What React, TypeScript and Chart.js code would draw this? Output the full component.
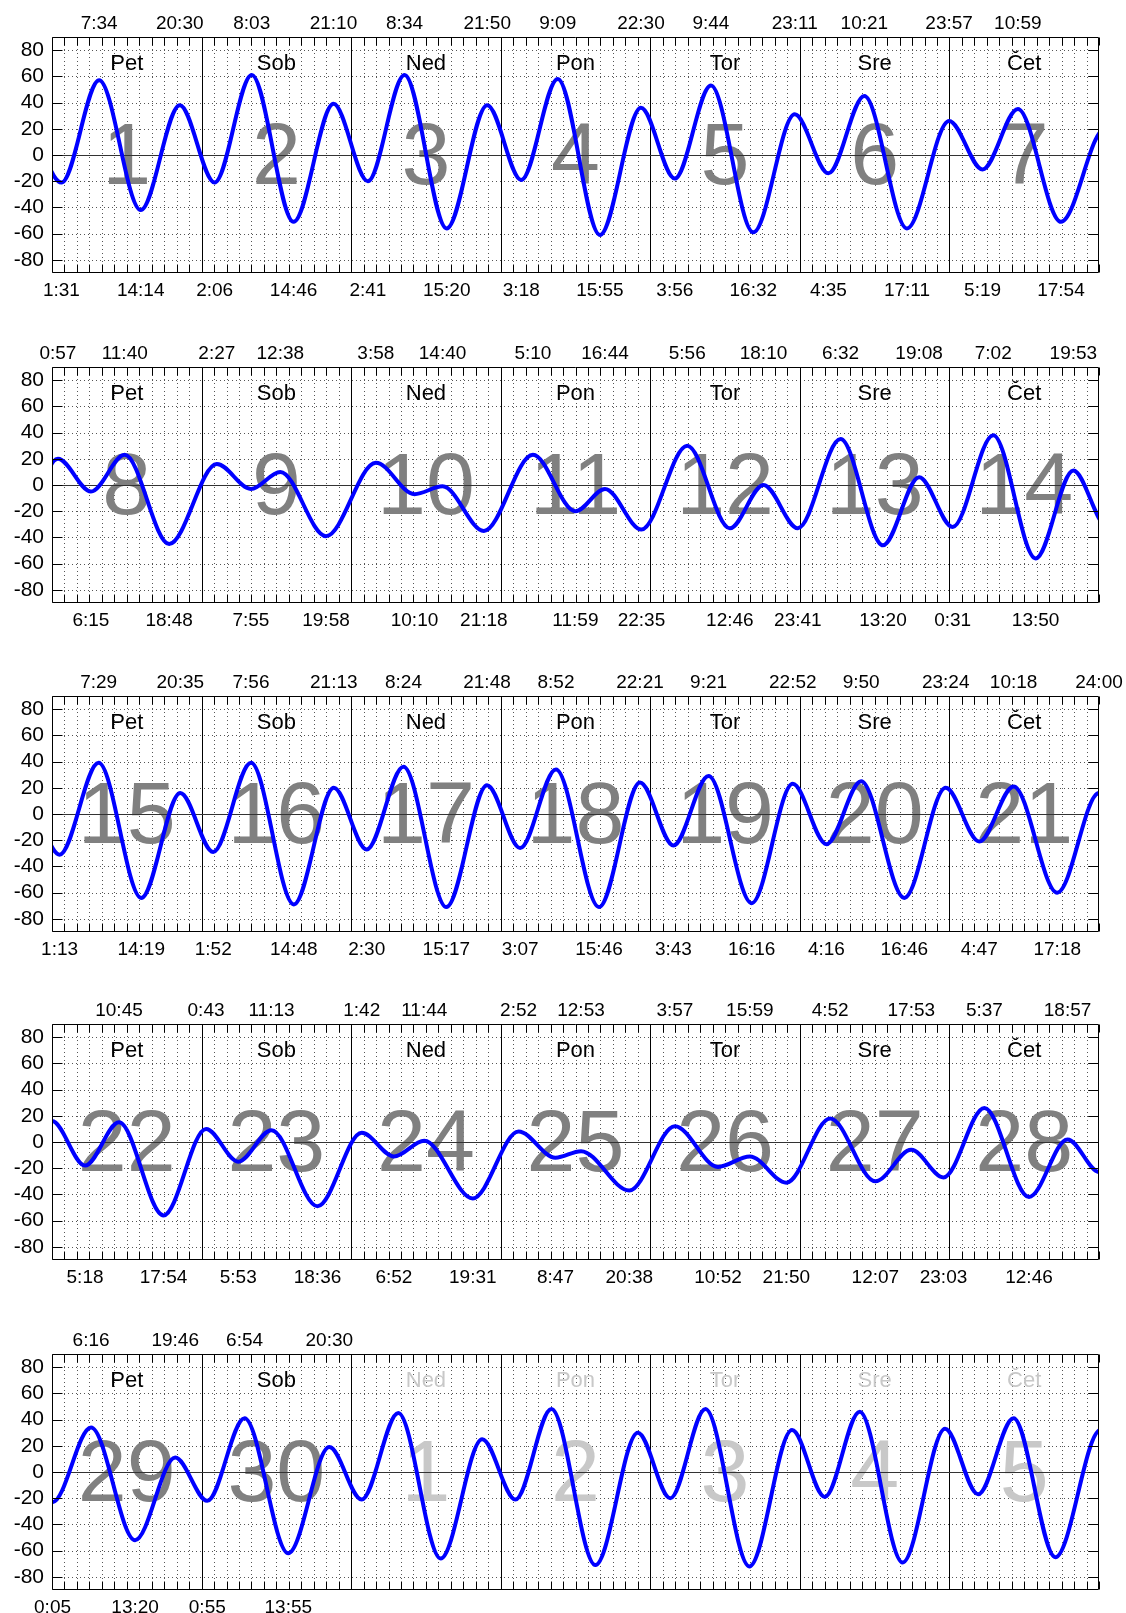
import React, { useEffect, useRef } from "react";
import { Chart, registerables } from "chart.js";

Chart.register(...registerables);

// ---------- data ----------
const DAY_NAMES = ["Pet", "Sob", "Ned", "Pon", "Tor", "Sre", "Čet"];
const Y_TICKS = [-80, -60, -40, -20, 0, 20, 40, 60, 80];

// week 1 (dates 1..7)
const week1Dates = [1, 2, 3, 4, 5, 6, 7];
const week1MonthDays = 7;
const week1Day = [-1, -1, 0, 0, 0, 0, 1, 1, 1, 1, 2, 2, 2, 2, 3, 3, 3, 3, 4, 4, 4, 4, 5, 5, 5, 5, 6, 6, 6, 7, 7];
const week1Time = ["12:50", "19:00", "1:31", "7:34", "14:14", "20:30", "2:06", "8:03", "14:46", "21:10", "2:41", "8:34", "15:20", "21:50", "3:18", "9:09", "15:55", "22:30", "3:56", "9:44", "16:32", "23:11", "4:35", "10:21", "17:11", "23:57", "5:19", "10:59", "17:54", "0:57", "6:15"];
const week1Height = [-40, 34, -21, 57, -42, 38, -21, 61, -51, 39, -20, 61, -56, 38, -19, 58, -61, 36, -18, 53, -59, 31, -14, 45, -56, 26, -11, 35, -51, 20, -5];

// week 2 (dates 8..14)
const week2Dates = [8, 9, 10, 11, 12, 13, 14];
const week2MonthDays = 7;
const week2Day = [-1, -1, 0, 0, 0, 0, 1, 1, 1, 1, 2, 2, 2, 2, 3, 3, 3, 3, 4, 4, 4, 4, 5, 5, 5, 6, 6, 6, 6, 7, 7];
const week2Time = ["10:59", "17:54", "0:57", "6:15", "11:40", "18:48", "2:27", "7:55", "12:38", "19:58", "3:58", "10:10", "14:40", "21:18", "5:10", "11:59", "16:44", "22:35", "5:56", "12:46", "18:10", "23:41", "6:32", "13:20", "19:08", "0:31", "7:02", "13:50", "19:53", "1:13", "7:29"];
const week2Height = [35, -51, 20, -5, 23, -45, 16, -3, 10, -39, 17, -7, -1, -35, 23, -20, -3, -34, 30, -33, 0, -33, 35, -46, 6, -32, 38, -56, 11, -31, 39];

// week 3 (dates 15..21)
const week3Dates = [15, 16, 17, 18, 19, 20, 21];
const week3MonthDays = 7;
const week3Day = [-1, -1, 0, 0, 0, 0, 1, 1, 1, 1, 2, 2, 2, 2, 3, 3, 3, 3, 4, 4, 4, 4, 5, 5, 5, 5, 6, 6, 6, 6, 7, 7];
const week3Time = ["13:50", "19:53", "1:13", "7:29", "14:19", "20:35", "1:52", "7:56", "14:48", "21:13", "2:30", "8:24", "15:17", "21:48", "3:07", "8:52", "15:46", "22:21", "3:43", "9:21", "16:16", "22:52", "4:16", "9:50", "16:46", "23:24", "4:47", "10:18", "17:18", "24:00", "5:18", "10:45"];
const week3Height = [-56, 11, -31, 39, -64, 16, -29, 39, -69, 20, -27, 36, -71, 22, -26, 34, -71, 24, -24, 29, -68, 23, -23, 25, -64, 20, -21, 21, -60, 16, -18, 15];

// week 4 (dates 22..28)
const week4Dates = [22, 23, 24, 25, 26, 27, 28];
const week4MonthDays = 7;
const week4Day = [-1, -1, 0, 0, 0, 1, 1, 1, 1, 2, 2, 2, 2, 3, 3, 3, 3, 4, 4, 4, 4, 5, 5, 5, 5, 6, 6, 6, 7, 7];
const week4Time = ["17:18", "24:00", "5:18", "10:45", "17:54", "0:43", "5:53", "11:13", "18:36", "1:42", "6:52", "11:44", "19:31", "2:52", "8:47", "12:53", "20:38", "3:57", "10:52", "15:59", "21:50", "4:52", "12:07", "17:53", "23:03", "5:37", "12:46", "18:57", "0:05", "6:16"];
const week4Height = [-60, 16, -18, 15, -56, 10, -15, 9, -49, 7, -11, 1, -43, 8, -12, -7, -37, 12, -19, -11, -31, 18, -30, -6, -27, 26, -42, 2, -23, 34];

// week 5 (dates 29, 30, then next month 1..5)
const week5Dates = [29, 30, 1, 2, 3, 4, 5];
const week5MonthDays = 2;
const week5Day = [-1, -1, 0, 0, 0, 0, 1, 1, 1, 1, 2, 2, 2, 2, 3, 3, 3, 3, 4, 4, 4, 4, 5, 5, 5, 5, 6, 6, 6, 7, 7];
const week5Time = ["12:46", "18:57", "0:05", "6:16", "13:20", "19:46", "0:55", "6:54", "13:55", "20:30", "1:41", "7:34", "14:22", "21:02", "2:22", "8:08", "15:12", "22:00", "3:12", "8:51", "15:54", "22:45", "4:00", "9:36", "16:30", "23:18", "4:36", "10:18", "17:00", "0:15", "5:10"];
const week5Height = [-42, 2, -23, 34, -52, 11, -22, 41, -62, 19, -21, 45, -66, 25, -21, 48, -71, 30, -20, 48, -72, 32, -19, 46, -69, 33, -17, 41, -65, 32, -15];

// ---------- layout ----------
const W = 1126;
const CANVAS_H = 310;
const PANEL_TOPS = [0, 330, 659, 987, 1317];
const FONT = '"Liberation Sans", Arial, Helvetica, sans-serif';

type Week = {
  dates: number[];
  monthDays: number;
  day: number[];
  time: string[];
  height: number[];
};

const WEEKS: Week[] = [
  { dates: week1Dates, monthDays: week1MonthDays, day: week1Day, time: week1Time, height: week1Height },
  { dates: week2Dates, monthDays: week2MonthDays, day: week2Day, time: week2Time, height: week2Height },
  { dates: week3Dates, monthDays: week3MonthDays, day: week3Day, time: week3Time, height: week3Height },
  { dates: week4Dates, monthDays: week4MonthDays, day: week4Day, time: week4Time, height: week4Height },
  { dates: week5Dates, monthDays: week5MonthDays, day: week5Day, time: week5Time, height: week5Height },
];

function toHours(day: number, time: string): number {
  const [h, m] = time.split(":").map(Number);
  return day * 24 + h + m / 60;
}

function makeDecor(dates: number[], monthDays: number) {
  return {
    id: "tideDecor",
    beforeDatasetsDraw(chart: any) {
      const { ctx, chartArea: a } = chart;
      const x = chart.scales.x;
      const y = chart.scales.y;
      ctx.save();
      // dotted grid
      ctx.lineWidth = 1;
      ctx.strokeStyle = "#555";
      ctx.setLineDash([1, 3]);
      ctx.beginPath();
      for (let h = 2; h < 168; h += 2) {
        if (h % 24 === 0) continue;
        const px = Math.round(x.getPixelForValue(h)) + 0.5;
        ctx.moveTo(px, a.top);
        ctx.lineTo(px, a.bottom);
      }
      for (const v of Y_TICKS) {
        if (v === 0) continue;
        const py = Math.round(y.getPixelForValue(v)) + 0.5;
        ctx.moveTo(a.left, py);
        ctx.lineTo(a.right, py);
      }
      ctx.stroke();
      ctx.setLineDash([]);

      // day numbers and names
      ctx.textAlign = "center";
      ctx.textBaseline = "alphabetic";
      for (let d = 0; d < 7; d++) {
        const cx = x.getPixelForValue(d * 24 + 12);
        const next = d >= monthDays;
        ctx.fillStyle = next ? "#c8c8c8" : "#808080";
        ctx.font = `88px ${FONT}`;
        ctx.fillText(String(dates[d]), cx, y.getPixelForValue(-22));
        ctx.fillStyle = next ? "#c8c8c8" : "#000";
        ctx.font = `22px ${FONT}`;
        ctx.fillText(DAY_NAMES[d], cx, y.getPixelForValue(64.5));
      }

      // day separators
      ctx.strokeStyle = "#000";
      ctx.lineWidth = 1;
      ctx.beginPath();
      for (let d = 1; d < 7; d++) {
        const px = Math.round(x.getPixelForValue(d * 24)) + 0.5;
        ctx.moveTo(px, a.top);
        ctx.lineTo(px, a.bottom);
      }
      ctx.stroke();
      // zero line
      ctx.strokeStyle = "#333";
      ctx.beginPath();
      const pz = Math.round(y.getPixelForValue(0)) + 0.5;
      ctx.moveTo(a.left, pz);
      ctx.lineTo(a.right, pz);
      ctx.stroke();
      ctx.restore();
    },
    afterDatasetsDraw(chart: any) {
      const { ctx, chartArea: a } = chart;
      const x = chart.scales.x;
      const y = chart.scales.y;
      ctx.save();
      ctx.strokeStyle = "#000";
      ctx.lineWidth = 1;
      ctx.beginPath();
      const L = Math.round(a.left) + 0.5;
      const R = Math.round(a.right) - 0.5;
      const T = Math.round(a.top) + 0.5;
      const B = Math.round(a.bottom) - 0.5;
      ctx.rect(L, T, R - L, B - T);
      for (let h = 0; h <= 168; h += 2) {
        const px = Math.round(x.getPixelForValue(h)) + 0.5;
        ctx.moveTo(px, T);
        ctx.lineTo(px, T + 8);
        ctx.moveTo(px, B);
        ctx.lineTo(px, B - 8);
      }
      for (const v of Y_TICKS) {
        const py = Math.round(y.getPixelForValue(v)) + 0.5;
        ctx.moveTo(L, py);
        ctx.lineTo(L + 10, py);
        ctx.moveTo(R, py);
        ctx.lineTo(R - 10, py);
      }
      ctx.stroke();
      ctx.restore();
    },
  };
}

function Panel({ week, top }: { week: Week; top: number }) {
  const ref = useRef<HTMLCanvasElement | null>(null);

  useEffect(() => {
    if (!ref.current) return;
    const hours = week.day.map((d, i) => toHours(d, week.time[i]));
    const points = hours.map((h, i) => ({ x: h, y: week.height[i] }));

    const highVals: number[] = [];
    const highLabels: string[] = [];
    const lowVals: number[] = [];
    const lowLabels: string[] = [];
    week.height.forEach((v, i) => {
      const d = week.day[i];
      if (d < 0 || d >= week.monthDays) return;
      const isHigh = i > 0 ? v > week.height[i - 1] : v > week.height[i + 1];
      if (isHigh) {
        highVals.push(hours[i]);
        highLabels.push(week.time[i]);
      } else {
        lowVals.push(hours[i]);
        lowLabels.push(week.time[i]);
      }
    });

    const chart = new Chart(ref.current, {
      type: "line",
      data: {
        datasets: [
          {
            data: points,
            borderColor: "#0000ff",
            borderWidth: 4,
            pointRadius: 0,
            fill: false,
            cubicInterpolationMode: "monotone",
            capBezierPoints: false,
            borderJoinStyle: "round",
            borderCapStyle: "round",
            clip: 0,
          } as any,
        ],
      },
      options: {
        responsive: false,
        animation: false,
        devicePixelRatio: 1,
        layout: { padding: { left: 0, right: 27, top: 0, bottom: 0 } },
        plugins: { legend: { display: false }, tooltip: { enabled: false } },
        events: [],
        scales: {
          x: {
            type: "linear",
            position: "bottom",
            min: 0,
            max: 168,
            grid: { display: false, drawTicks: false },
            border: { display: false },
            afterBuildTicks: (s: any) => {
              s.ticks = lowVals.map((v) => ({ value: v }));
            },
            afterFit: (s: any) => {
              s.height = 37;
            },
            ticks: {
              autoSkip: false,
              maxRotation: 0,
              minRotation: 0,
              padding: 6,
              color: "#000",
              font: { family: FONT, size: 19 },
              callback: (_v: any, i: number) => lowLabels[i],
            },
          },
          xTop: {
            type: "linear",
            axis: "x",
            position: "top",
            min: 0,
            max: 168,
            grid: { display: false, drawTicks: false },
            border: { display: false },
            afterBuildTicks: (s: any) => {
              s.ticks = highVals.map((v) => ({ value: v }));
            },
            afterFit: (s: any) => {
              s.height = 37;
            },
            ticks: {
              autoSkip: false,
              maxRotation: 0,
              minRotation: 0,
              padding: 2,
              color: "#000",
              font: { family: FONT, size: 19 },
              callback: (_v: any, i: number) => highLabels[i],
            },
          },
          y: {
            type: "linear",
            min: -90,
            max: 90,
            grid: { display: false, drawTicks: false },
            border: { display: false },
            afterBuildTicks: (s: any) => {
              s.ticks = Y_TICKS.map((v) => ({ value: v }));
            },
            afterFit: (s: any) => {
              s.width = 52;
            },
            ticks: {
              padding: 8,
              color: "#000",
              font: { family: FONT, size: 21 },
              callback: (v: any) => String(v),
            },
          },
        } as any,
      },
      plugins: [makeDecor(week.dates, week.monthDays)],
    } as any);

    return () => chart.destroy();
  }, [week]);

  return (
    <canvas
      ref={ref}
      width={W}
      height={CANVAS_H}
      style={{ position: "absolute", left: 0, top, width: W, height: CANVAS_H, display: "block" }}
    />
  );
}

export default function App() {
  return (
    <div
      style={{
        position: "absolute",
        left: 0,
        top: 0,
        width: W,
        height: 1613,
        overflow: "hidden",
        background: "#fff",
      }}
    >
      {WEEKS.map((w, i) => (
        <Panel key={i} week={w} top={PANEL_TOPS[i]} />
      ))}
    </div>
  );
}
